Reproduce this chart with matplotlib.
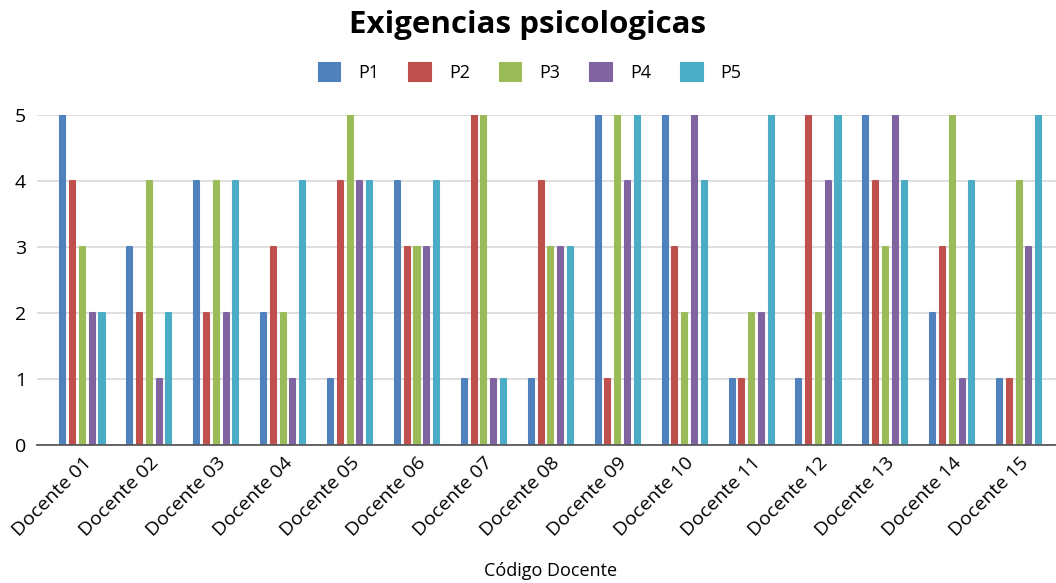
import numpy as np
import matplotlib.pyplot as plt

plt.rcParams['font.family'] = ['Open Sans', 'DejaVu Sans']

docentes = ['Docente %02d' % i for i in range(1, 16)]
series = ['P1', 'P2', 'P3', 'P4', 'P5']
p1 = [5, 3, 4, 2, 1, 4, 1, 1, 5, 5, 1, 1, 5, 2, 1]
p2 = [4, 2, 2, 3, 4, 3, 5, 4, 1, 3, 1, 5, 4, 3, 1]
p3 = [3, 4, 4, 2, 5, 3, 5, 3, 5, 2, 2, 2, 3, 5, 4]
p4 = [2, 1, 2, 1, 4, 3, 1, 3, 4, 5, 2, 4, 5, 1, 3]
p5 = [2, 2, 4, 4, 4, 4, 1, 3, 5, 4, 5, 5, 4, 4, 5]
colores = ['#4F81BD', '#C0504D', '#9BBB59', '#8064A2', '#4BACC6']

fig = plt.figure(figsize=(10.56, 5.83), dpi=100)
ax = fig.add_axes([0.035, 0.2367, 0.965, 0.566])

x = np.arange(len(docentes))
paso = 0.146
ancho = 0.075
for i, (nombre, vals) in enumerate(zip(series, [p1, p2, p3, p4, p5])):
    ax.bar(x + (i - 2) * paso, vals, width=ancho, color=colores[i],
           edgecolor=colores[i], linewidth=1.5, joinstyle='round',
           label=nombre, zorder=3)

ax.set_xlim(-0.68, 14.55)
ax.set_ylim(0, 5)
ax.set_yticks(range(6))
ax.yaxis.grid(True, color='#d9d9d9', linewidth=1.2, zorder=0)
ax.set_axisbelow(True)
for s in ['top', 'right', 'left']:
    ax.spines[s].set_visible(False)
ax.spines['bottom'].set_color('#595959')
ax.spines['bottom'].set_linewidth(1.3)
ax.spines['bottom'].set_zorder(4)
ax.tick_params(axis='both', length=0, labelsize=14, colors='#000000')
ax.tick_params(axis='y', pad=8)
ax.set_xticks(x)
ax.set_xticklabels(docentes, rotation=45, ha='right', rotation_mode='anchor')
ax.tick_params(axis='x', pad=6)

fig.text(0.5, 0.957, 'Exigencias psicologicas', ha='center', va='center',
         fontsize=22.5, fontweight='bold')
fig.text(0.521, 0.02, 'Código Docente', ha='center', va='center', fontsize=13)

fig.legend(loc='center', bbox_to_anchor=(0.502, 0.876), ncol=5, frameon=False,
           fontsize=13, handlelength=1.2, handleheight=1.2, columnspacing=1.65,
           handletextpad=1.0)

plt.savefig('out.png', dpi=100)
